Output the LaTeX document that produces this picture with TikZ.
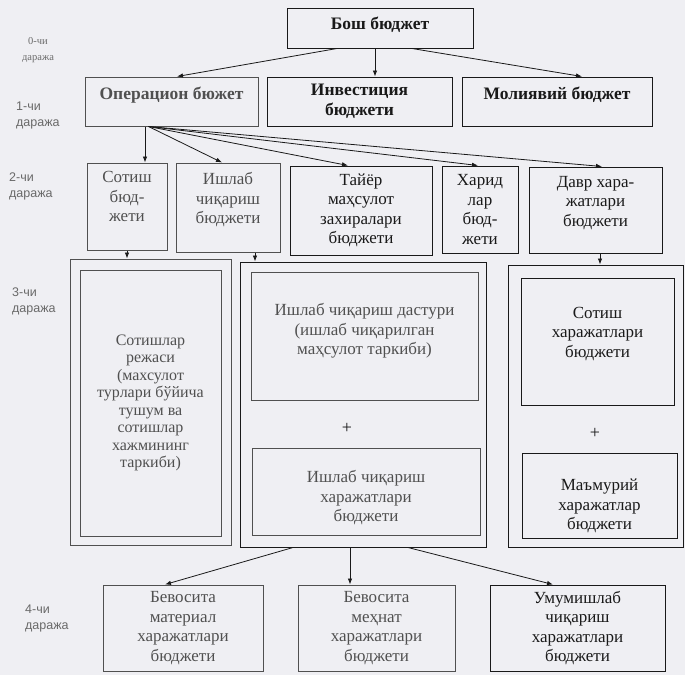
\documentclass[tikz,border=0pt]{standalone}
\usepackage{fontspec}
\setmainfont{Liberation Serif}
\setsansfont{Liberation Sans}
\usetikzlibrary{arrows.meta}
\definecolor{paper}{RGB}{239,239,243}
\definecolor{ink}{RGB}{25,25,25}
\definecolor{pale}{RGB}{80,80,80}
\definecolor{lvlgray}{RGB}{105,105,105}

\begin{document}
\begin{tikzpicture}
[x=1pt,y=-1pt,%
  every node/.style={inner sep=0pt,align=center},%
  bx/.style={draw=ink,text=ink,line width=1pt,font=\fontsize{17}{19.5}\selectfont},%
  head/.style={bx,font=\fontsize{17.5}{20}\selectfont\bfseries},%
  faded/.style={draw=pale,text=pale},%
  outbox/.style={draw=ink,line width=1pt},%
  plussign/.style={text=ink,font=\fontsize{18}{20}\selectfont},%
  lvl/.style={anchor=west,align=left,text=lvlgray,font=\sffamily\fontsize{12.5}{16}\selectfont},%
  arr/.style={-{Latex[length=6pt,width=4.5pt]},line width=0.8pt,draw=ink}]
\fill[paper] (0,0) rectangle (685,675);
\useasboundingbox (0,0) rectangle (685,675);

\node[lvl,align=center,anchor=center,font=\fontsize{10.5}{16}\selectfont] (l0) at (38,50) {0-чи\\даража};
\node[lvl] (l1) at (16,115) {1-чи\\даража};
\node[lvl] (l2) at (9,186) {2-чи\\даража};
\node[lvl] (l3) at (12,301) {3-чи\\даража};
\node[lvl] (l4) at (25,618) {4-чи\\даража};

\node[head,text depth=10pt,minimum width=186pt,minimum height=40pt] (bosh) at (380,28) {Бош бюджет};
\node[head,faded,text depth=17pt,minimum width=173pt,minimum height=49pt] (op) at (171.5,101.5) {Операцион бюжет};
\node[head,minimum width=185pt,minimum height=49pt] (inv) at (359.5,101.5) {Инвестиция\\бюджети};
\node[head,text depth=17pt,minimum width=190pt,minimum height=49pt] (mol) at (557,101.5) {Молиявий бюджет};

\node[bx,faded,text depth=20pt,minimum width=80pt,minimum height=87pt] (sot2) at (127,206.5) {Сотиш\\бюд-\\жети};
\node[bx,faded,text depth=19pt,minimum width=104pt,minimum height=89pt] (ish2) at (228,207.5) {Ишлаб\\чиқариш\\бюджети};
\node[bx,minimum width=142pt,minimum height=89pt] (tay2) at (361,210.5) {Тайёр\\маҳсулот\\захиралари\\бюджети};
\node[bx,minimum width=76pt,minimum height=87pt] (xar2) at (480,209.5) {Харид\\лар\\бюд-\\жети};
\node[bx,text depth=18pt,minimum width=133pt,minimum height=86pt] (dav2) at (595.5,210) {Давр хара-\\жатлари\\бюджети};

\node[outbox,faded,minimum width=161pt,minimum height=286pt] (lout) at (150.5,402) {};
\node[bx,faded,minimum width=141pt,minimum height=266pt,font=\fontsize{16}{17.5}\selectfont] (lin) at (150.5,403)
  {Сотишлар\\режаси\\(махсулот\\турлари бўйича\\тушум ва\\сотишлар\\хажмининг\\таркиби)};

\node[outbox,minimum width=246pt,minimum height=285pt] (mout) at (363,404.5) {};
\node[bx,faded,text depth=14pt,minimum width=227pt,minimum height=128pt] (prog) at (364.5,336) {Ишлаб чиқариш дастури\\(ишлаб чиқарилган\\маҳсулот таркиби)};
\node[plussign] (plus1) at (347,428) {+};
\node[bx,faded,text height=64pt,minimum width=228pt,minimum height=87pt] (ichx) at (366,491.5) {Ишлаб чиқариш\\харажатлари\\бюджети};

\node[outbox,minimum width=175pt,minimum height=282pt] (rout) at (595.5,406) {};
\node[bx,text depth=19pt,minimum width=153pt,minimum height=127pt] (sotx) at (597.5,341.5) {Сотиш\\харажатлари\\бюджети};
\node[plussign] (plus2) at (595,433) {+};
\node[bx,text height=72pt,minimum width=155pt,minimum height=85pt] (mamx) at (599.5,495.5) {Маъмурий\\харажатлар\\бюджети};

\node[bx,faded,minimum width=160pt,minimum height=86pt] (bmat) at (183,628) {Бевосита\\материал\\харажатлари\\бюджети};
\node[bx,faded,minimum width=157pt,minimum height=86pt] (bmeh) at (376.5,628) {Бевосита\\меҳнат\\харажатлари\\бюджети};
\node[bx,minimum width=175pt,minimum height=86pt] (umum) at (577.5,628) {Умумишлаб\\чиқариш\\харажатлари\\бюджети};

\coordinate (fan) at ([xshift=-23pt]op.south);
\draw[arr] ([xshift=-43pt]bosh.south) -- ([xshift=5.5pt]op.north);
\draw[arr] ([xshift=-5pt]bosh.south) -- ([xshift=-5pt]bosh.south |- inv.north);
\draw[arr] ([xshift=32pt]bosh.south) -- ([xshift=25pt]mol.north);
\draw[arr] ([xshift=-26.5pt]op.south) -- ([xshift=-26.5pt]op.south |- sot2.north);
\draw[arr] (fan) -- ([xshift=-6pt]ish2.north);
\draw[arr] (fan) -- ([xshift=-13pt]tay2.north);
\draw[arr] (fan) -- ([xshift=-2pt]xar2.north);
\draw[arr] (fan) -- ([xshift=6.5pt]dav2.north);
\draw[arr] (sot2.south) -- (sot2.south |- lout.north);
\draw[arr] ([xshift=27pt]ish2.south) -- ([xshift=27pt]ish2.south |- mout.north);
\draw[arr] ([xshift=4.5pt]dav2.south) -- ([xshift=4.5pt]dav2.south |- rout.north);
\draw[arr] ([xshift=-70pt]mout.south) -- ([xshift=-18pt]bmat.north);
\draw[arr] ([xshift=-13pt]mout.south) -- ([xshift=-13pt]mout.south |- bmeh.north);
\draw[arr] ([xshift=45pt]mout.south) -- ([xshift=-24.5pt]umum.north);
\end{tikzpicture}
\end{document}
